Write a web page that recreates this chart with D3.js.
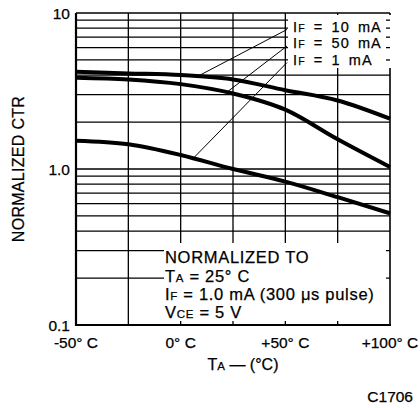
<!DOCTYPE html>
<html>
<head>
<meta charset="utf-8">
<script src="https://cdn.jsdelivr.net/npm/d3@7"></script>
<style>
  body { margin: 0; background: #fff; }
  text { font-family: "Liberation Sans", Arial, sans-serif; fill: #000; stroke: #000; stroke-width: 0.25px; }
</style>
</head>
<body>
<div id="chart"></div>
<script>
// values
const temps = [-50, -25, 0, 25, 50, 75, 100];
const ctr10mA = [4.2, 4.1, 4.0, 3.75, 3.2, 2.75, 2.1];
const ctr50mA = [3.85, 3.75, 3.5, 3.05, 2.4, 1.55, 1.03];
const ctr1mA = [1.52, 1.44, 1.23, 1.0, 0.83, 0.66, 0.52];
const seriesNames = ["10 mA", "50 mA", "1 mA"];
const leaderTemps = [8, 22, 6];

const xTicks = [-50, 0, 50, 100];
const xTickLabels = ["-50° C", "0° C", "+50° C", "+100° C"];
const xGrid = [-25, 0, 25, 50, 75];
const yTicks = [0.1, 1, 10];
const yTickLabels = ["0.1", "1.0", "10"];
const yGrid = [0.2, 0.3, 0.4, 0.5, 0.6, 0.7, 0.8, 0.9, 1, 2, 3, 4, 5, 6, 7, 8, 9];

const margin = { top: 13, right: 30, bottom: 83, left: 76 };
const width = 420 - margin.left - margin.right;
const height = 408 - margin.top - margin.bottom;

const svg = d3.select("#chart").append("svg")
    .attr("width", 420)
    .attr("height", 408)
    .append("g")
    .attr("transform", "translate(" + margin.left + "," + margin.top + ")");

const x = d3.scaleLinear().domain([-50, 100]).range([0, width]);
const y = d3.scaleLog().domain([0.1, 10]).range([height, 0]);

// grid
svg.selectAll(".hgrid").data(yGrid).enter().append("line")
    .attr("x1", 0).attr("x2", width)
    .attr("y1", d => y(d)).attr("y2", d => y(d))
    .attr("stroke", "#000").attr("stroke-width", 1.3);

svg.selectAll(".vgrid").data(xGrid).enter().append("line")
    .attr("x1", d => x(d)).attr("x2", d => x(d))
    .attr("y1", 0).attr("y2", height)
    .attr("stroke", "#000").attr("stroke-width", 1.3);

// frame
svg.append("line").attr("x1", 0).attr("x2", width).attr("y1", 0).attr("y2", 0)
    .attr("stroke", "#000").attr("stroke-width", 1.6);
svg.append("line").attr("x1", width).attr("x2", width).attr("y1", 0).attr("y2", height)
    .attr("stroke", "#000").attr("stroke-width", 1.6);
svg.append("line").attr("x1", 0).attr("x2", 0).attr("y1", 0).attr("y2", height + 1)
    .attr("stroke", "#000").attr("stroke-width", 2.2);
svg.append("line").attr("x1", 0).attr("x2", width + 1).attr("y1", height).attr("y2", height)
    .attr("stroke", "#000").attr("stroke-width", 2.2);

// white areas behind legend and note
const legendBox = { x: 212, y: 2, w: width - 212 + 2, h: 53 };
svg.append("rect")
    .attr("x", legendBox.x).attr("y", legendBox.y)
    .attr("width", legendBox.w).attr("height", legendBox.h)
    .attr("fill", "#fff");
svg.selectAll(".stub").data(yGrid.filter(d => y(d) < legendBox.y + legendBox.h)).enter().append("line")
    .attr("x1", width - 4).attr("x2", width)
    .attr("y1", d => y(d)).attr("y2", d => y(d))
    .attr("stroke", "#000").attr("stroke-width", 1.3);

svg.append("rect")
    .attr("x", 88).attr("y", 230)
    .attr("width", width - 4 - 88).attr("height", height - 4 - 230)
    .attr("fill", "#fff");

// curves
const series = [ctr10mA, ctr50mA, ctr1mA];
const line = d3.line()
    .x(d => x(d[0]))
    .y(d => y(d[1]))
    .curve(d3.curveMonotoneX);

series.forEach(vals => {
    svg.append("path")
        .datum(temps.map((t, i) => [t, vals[i]]))
        .attr("d", line)
        .attr("fill", "none")
        .attr("stroke", "#000")
        .attr("stroke-width", 4);
});

// legend labels + leaders
function valueAt(vals, t) {
    const i = Math.min(d3.bisectRight(temps, t) - 1, temps.length - 2);
    const f = (t - temps[i]) / (temps[i + 1] - temps[i]);
    return Math.exp(Math.log(vals[i]) * (1 - f) + Math.log(vals[i + 1]) * f);
}

seriesNames.forEach((name, i) => {
    const base = 18.5 + i * 16.5;
    const t = svg.append("text")
        .attr("x", 217).attr("y", base)
        .attr("font-size", "14.5px")
        .attr("letter-spacing", "1.1px")
        .attr("word-spacing", "3px");
    t.append("tspan").text("I");
    t.append("tspan").attr("font-size", "10.5px").text("F");
    t.append("tspan").text(" = " + name);

    svg.append("line")
        .attr("x1", 211).attr("y1", base - 2)
        .attr("x2", x(leaderTemps[i]))
        .attr("y2", y(valueAt(series[i], leaderTemps[i])))
        .attr("stroke", "#000").attr("stroke-width", 1);
});

// note
const note = svg.append("g").attr("font-size", "16.5px").attr("letter-spacing", "0.7px");
note.append("text").attr("x", 89).attr("y", 250).text("NORMALIZED TO");
let n = note.append("text").attr("x", 89).attr("y", 268.5);
n.append("tspan").text("T");
n.append("tspan").attr("font-size", "11.5px").text("A");
n.append("tspan").text(" = 25° C");
n = note.append("text").attr("x", 89).attr("y", 287);
n.append("tspan").text("I");
n.append("tspan").attr("font-size", "11.5px").text("F");
n.append("tspan").text(" = 1.0 mA (300 μs pulse)");
n = note.append("text").attr("x", 89).attr("y", 305);
n.append("tspan").text("V");
n.append("tspan").attr("font-size", "11.5px").text("CE");
n.append("tspan").text(" = 5 V");

// tick labels
svg.selectAll(".xlab").data(xTicks).enter().append("text")
    .attr("x", d => x(d))
    .attr("y", height + 23)
    .attr("text-anchor", "middle")
    .attr("font-size", "15.5px")
    .text((d, i) => xTickLabels[i]);

svg.selectAll(".ylab").data(yTicks).enter().append("text")
    .attr("x", -6)
    .attr("y", d => y(d))
    .attr("dy", "0.36em")
    .attr("text-anchor", "end")
    .attr("font-size", "15.5px")
    .text((d, i) => yTickLabels[i]);

// axis titles
svg.append("text")
    .attr("transform", "translate(-58," + (height / 2) + ") rotate(-90)")
    .attr("dy", "0.36em")
    .attr("text-anchor", "middle")
    .attr("font-size", "16px")
    .attr("letter-spacing", "0.3px")
    .text("NORMALIZED CTR");

const xt = svg.append("text")
    .attr("x", 167).attr("y", height + 45)
    .attr("text-anchor", "middle")
    .attr("font-size", "16px");
xt.append("tspan").text("T");
xt.append("tspan").attr("font-size", "11.5px").text("A");
xt.append("tspan").text(" — (°C)");

svg.append("text")
    .attr("x", 337).attr("y", height + 77)
    .attr("text-anchor", "end")
    .attr("font-size", "15.5px")
    .text("C1706");
</script>
</body>
</html>
